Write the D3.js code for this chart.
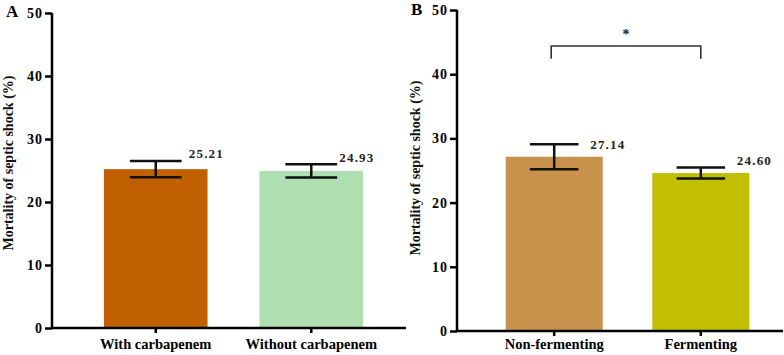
<!DOCTYPE html>
<html>
<head>
<meta charset="utf-8">
<script src="https://cdn.jsdelivr.net/npm/d3@7"></script>
<style>
  body { margin: 0; background: #fff; }
  svg { display: block; font-family: "Liberation Serif", "Times New Roman", serif; font-weight: bold; }
</style>
</head>
<body>
<svg id="chart" width="784" height="355"></svg>
<script>
// data
const groupsA = ["With carbapenem", "Without carbapenem"];
const meansA = [25.21, 24.93];
const errA = [1.3, 1.05];
const colorsA = ["#c06000", "#addfb0"];

const groupsB = ["Non-fermenting", "Fermenting"];
const meansB = [27.14, 24.60];
const errB = [1.95, 0.85];
const colorsB = ["#c8914c", "#c2be00"];

const yTicks = [0, 10, 20, 30, 40, 50];
const yTitle = "Mortality of septic shock (%)";
const sigB = { from: "Non-fermenting", to: "Fermenting", level: 44.4, drop: 2, label: "*" };

const svg = d3.select("#chart");

function drawPanel(p) {
    const g = svg.append("g");
    const y = d3.scaleLinear().domain([0, 50]).range([p.y0, p.y1]);
    const x = d3.scaleBand().domain(p.groups).range(p.xRange)
        .paddingInner(p.padIn).paddingOuter(p.padOut);
    const bw = x.bandwidth();

    // bars
    g.selectAll("rect.bar").data(p.groups).enter().append("rect")
        .attr("class", "bar")
        .attr("x", d => x(d)).attr("width", bw)
        .attr("y", (d, i) => y(p.means[i]))
        .attr("height", (d, i) => y(0) - y(p.means[i]))
        .attr("fill", (d, i) => p.colors[i]);

    // error bars
    const eb = g.selectAll("g.err").data(p.groups).enter().append("g")
        .attr("class", "err").attr("stroke", "#111").attr("stroke-width", 2.5);
    eb.append("line")
        .attr("x1", d => x(d) + bw / 2).attr("x2", d => x(d) + bw / 2)
        .attr("y1", (d, i) => y(p.means[i] + p.err[i]))
        .attr("y2", (d, i) => y(p.means[i] - p.err[i]));
    [1, -1].forEach(s => {
        eb.append("line")
            .attr("x1", d => x(d) + bw / 4).attr("x2", d => x(d) + bw * 3 / 4)
            .attr("y1", (d, i) => y(p.means[i] + s * p.err[i]))
            .attr("y2", (d, i) => y(p.means[i] + s * p.err[i]));
    });

    // value labels
    g.selectAll("text.val").data(p.groups).enter().append("text")
        .attr("class", "val")
        .attr("x", (d, i) => x(d) + bw / 2 + p.labelShift[i][0])
        .attr("y", (d, i) => y(p.means[i] + p.err[i]) + p.labelShift[i][1])
        .attr("font-size", 13).attr("letter-spacing", 1.2).attr("fill", "#222")
        .text((d, i) => p.means[i].toFixed(2));

    // y axis
    const yAxis = g.append("g").attr("transform", `translate(${p.xRange[0]},0)`)
        .call(d3.axisLeft(y).tickValues(yTicks).tickSize(7).tickPadding(2))
        .attr("font-family", null).attr("font-size", 14);
    yAxis.select(".domain").attr("stroke", "#000").attr("stroke-width", 2.5)
        .attr("d", `M0,${p.y0 + 1}V${p.y1}`);
    yAxis.selectAll(".tick line").attr("stroke", "#000").attr("stroke-width", 2.5);
    yAxis.selectAll(".tick text").attr("letter-spacing", 1).attr("fill", "#000");

    // x axis
    const xAxis = g.append("g").attr("transform", `translate(0,${p.y0})`)
        .call(d3.axisBottom(x).tickSize(5).tickPadding(p.xPad))
        .attr("font-family", null).attr("font-size", 14.5);
    xAxis.select(".domain").attr("stroke", "#000").attr("stroke-width", 2.5)
        .attr("d", `M${p.xRange[0] - 1},0H${p.xEnd}`);
    xAxis.selectAll(".tick line").attr("stroke", "#000").attr("stroke-width", 2.5);
    xAxis.selectAll(".tick text").attr("fill", "#000");

    // y title
    g.append("text")
        .attr("transform", `translate(${p.titleX},${p.titleY}) rotate(-90)`)
        .attr("text-anchor", "middle").attr("font-size", 14).attr("fill", "#111")
        .text(yTitle);

    // panel letter
    g.append("text").attr("x", p.letterX).attr("y", p.letterY)
        .attr("font-size", 17).attr("fill", "#000").text(p.letter);

    return { x, y, bw, g };
}

drawPanel({
    groups: groupsA, means: meansA, err: errA, colors: colorsA,
    y0: 328, y1: 13, xRange: [52, 415], padIn: 0.334, padOut: 0.334, xEnd: 406, xPad: 6,
    labelShift: [[33, -3], [28, -2.5]],
    titleX: 13, titleY: 163, letter: "A", letterX: 6, letterY: 17
});

const pB = drawPanel({
    groups: groupsB, means: meansB, err: errB, colors: colorsB,
    y0: 331, y1: 10, xRange: [457, 798], padIn: 0.338, padOut: 0.332, xEnd: 783, xPad: 3,
    labelShift: [[36, 5], [36, -2.5]],
    titleX: 420, titleY: 168, letter: "B", letterX: 411, letterY: 15
});

// significance bracket
const bx1 = pB.x(sigB.from) + pB.bw / 2 - 3;
const bx2 = pB.x(sigB.to) + pB.bw / 2;
const byTop = pB.y(sigB.level);
const byBot = pB.y(sigB.level - sigB.drop);
pB.g.append("path")
    .attr("d", `M${bx1},${byBot}V${byTop}H${bx2}V${byBot}`)
    .attr("fill", "none").attr("stroke", "#333").attr("stroke-width", 1.6);
pB.g.append("text").attr("x", (bx1 + bx2) / 2).attr("y", byTop - 7)
    .attr("text-anchor", "middle").attr("font-size", 14).attr("fill", "#222")
    .text(sigB.label);
</script>
</body>
</html>
